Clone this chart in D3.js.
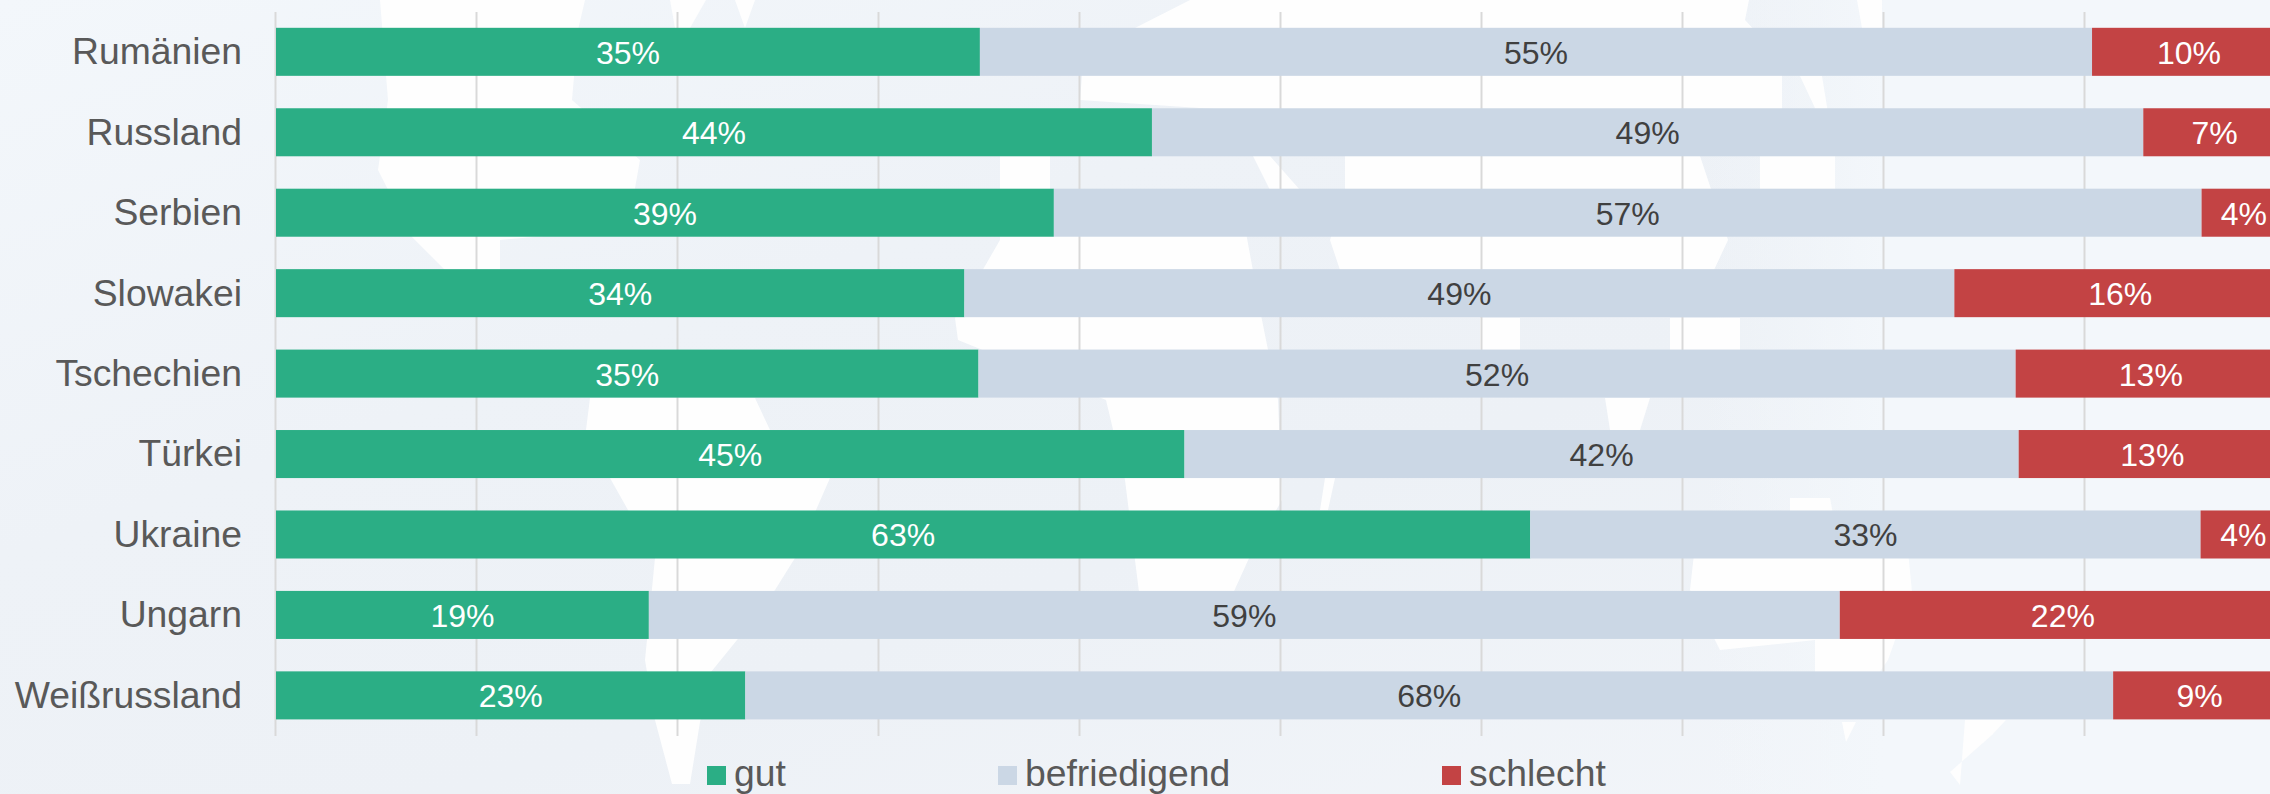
<!DOCTYPE html>
<html><head><meta charset="utf-8">
<script src="https://cdn.jsdelivr.net/npm/d3@7/dist/d3.min.js"></script>
<style>html,body{margin:0;padding:0;background:#fff;overflow:hidden}svg{display:block}text{font-family:"Liberation Sans",Arial,sans-serif}</style>
</head><body><div id="c"></div>
<script>
const categories=["Rumänien","Russland","Serbien","Slowakei","Tschechien","Türkei","Ukraine","Ungarn","Weißrussland"];
const gut=[35.02,43.58,38.7,34.25,34.95,45.2,62.4,18.55,23.35];
const befriedigend=[55.33,49.32,57.1,49.25,51.6,41.5,33.35,59.25,68.05];
const schlecht=[9.65,7.1,4.2,16.5,13.45,13.3,4.25,22.2,8.6];
const gutLabels=["35%","44%","39%","34%","35%","45%","63%","19%","23%"];
const befriedigendLabels=["55%","49%","57%","49%","52%","42%","33%","59%","68%"];
const schlechtLabels=["10%","7%","4%","16%","13%","13%","4%","22%","9%"];
const seriesNames=["gut","befriedigend","schlecht"];
const seriesColors=["#2bae85","#cbd7e5","#c34344"];
const labelColors=["#ffffff","#404040","#ffffff"];
const gridTicks=[0,10,20,30,40,50,60,70,80,90];
const legendX=[707,998,1442];
// faint world-map backdrop: white shapes over the tinted ground
const mapShapes=[
"380,0 585,0 578,30 572,100 640,160 632,205 590,232 500,240 500,270 445,270 412,237 378,170 388,100",
"670,0 706,0 690,28 675,28","735,0 755,0 745,28",
"1190,0 1749,0 1745,20 1782,60 1782,110 1700,156 1728,240 1700,300 1350,300 1330,240 1345,190 1345,156 1270,156 1300,190 1270,190 1230,110 1080,100 1085,40 1135,28",
"1000,150 1050,150 1050,190 1000,190",
"1000,200 1240,200 1262,320 1278,400 1282,500 1250,556 1230,600 1140,600 1125,480 1106,400 958,340 955,318 1000,240",
"590,398 755,398 770,430 830,478 795,558 775,590 737,640 711,672 700,722 690,784 672,784 655,720 645,660 655,558 610,478 586,430",
"1695,545 1905,520 1912,592 1888,660 1860,700 1815,690 1815,640 1720,650 1690,590",
"1480,318 1520,318 1520,350 1480,350","1670,318 1740,318 1740,350 1670,350",
"1857,0 1882,0 1882,28 1862,28","1800,76 1822,76 1835,156 1835,190 1760,190 1760,156 1815,108",
"1960,785 1950,772 1992,735 2006,720 1965,720",
"1605,398 1650,398 1640,430 1610,430","1790,498 1830,498 1835,525 1790,540",
"1325,478 1335,478 1328,510 1320,510","1842,722 1856,722 1846,742"
];

const W=2270,H=794;
const svg=d3.select("#c").append("svg").attr("width",W).attr("height",H);
const defs=svg.append("defs");
const g=defs.append("linearGradient").attr("id","bg").attr("x1","0").attr("y1","0").attr("x2","1").attr("y2","1");
[[0,"#f3f7fb"],[0.35,"#eef2f7"],[0.6,"#edf1f6"],[1,"#f3f6fa"]].forEach(d=>g.append("stop").attr("offset",d[0]).attr("stop-color",d[1]));
const g2=defs.append("linearGradient").attr("id","bg2").attr("x1","0").attr("y1","0").attr("x2","1").attr("y2","0");
[[0,"#f2f6fa",0],[0.75,"#f2f6fa",0],[0.83,"#f3f7fb",1],[1,"#f3f7fb",1]].forEach(d=>g2.append("stop").attr("offset",d[0]).attr("stop-color",d[1]).attr("stop-opacity",d[2]));
svg.append("rect").attr("width",W).attr("height",H).attr("fill","url(#bg)");
svg.append("rect").attr("width",W).attr("height",H).attr("fill","url(#bg2)");
svg.append("g").selectAll("polygon").data(mapShapes).join("polygon").attr("points",d=>d).attr("fill","#fefefe");

const x=d3.scaleLinear().domain([0,100]).range([276,2286]);
const y=d3.scaleBand().domain(categories).range([12,736]).paddingInner(0.403).paddingOuter(0.2015);

svg.append("g").attr("transform","translate(-1,736)")
 .call(d3.axisBottom(x).tickValues(gridTicks).tickSize(-724).tickFormat(""))
 .call(s=>s.select(".domain").remove())
 .call(s=>s.selectAll("line").attr("stroke","#d9d9d9").attr("stroke-width",2));

const rows=categories.map((c,i)=>({cat:c,gut:gut[i],befriedigend:befriedigend[i],schlecht:schlecht[i],i}));
const stacked=d3.stack().keys(seriesNames)(rows);
const allLabels=[gutLabels,befriedigendLabels,schlechtLabels];
const layers=svg.selectAll("g.layer").data(stacked).join("g").attr("class","layer");
layers.selectAll("rect").data(d=>d).join("rect")
 .attr("x",d=>x(d[0])).attr("y",d=>y(d.data.cat)-0.4)
 .attr("width",d=>x(d[1])-x(d[0])).attr("height",y.bandwidth())
 .attr("fill",function(){return seriesColors[d3.select(this.parentNode).datum().index]});
layers.selectAll("text").data(d=>d).join("text")
 .attr("x",d=>(x(d[0])+x(d[1]))/2).attr("y",d=>y(d.data.cat)+y.bandwidth()/2+11.5)
 .attr("text-anchor","middle").attr("font-size",32)
 .attr("fill",function(){return labelColors[d3.select(this.parentNode).datum().index]})
 .text(function(d){return allLabels[d3.select(this.parentNode).datum().index][d.data.i]});

svg.append("g").attr("transform","translate(276,0)")
 .call(d3.axisLeft(y).tickSize(0).tickPadding(34))
 .call(s=>s.select(".domain").remove())
 .call(s=>s.selectAll("text").attr("font-size",37.3).attr("fill","#595959").attr("dy","0").attr("y",12).style("font-family",'"Liberation Sans",Arial,sans-serif'));

const leg=svg.selectAll("g.leg").data(seriesNames).join("g").attr("class","leg").attr("transform",(d,i)=>`translate(${legendX[i]},766)`);
leg.append("rect").attr("width",19).attr("height",19).attr("fill",(d,i)=>seriesColors[i]);
leg.append("text").attr("x",27).attr("y",20).attr("font-size",37.3).attr("fill","#595959").text(d=>d);
</script></body></html>
